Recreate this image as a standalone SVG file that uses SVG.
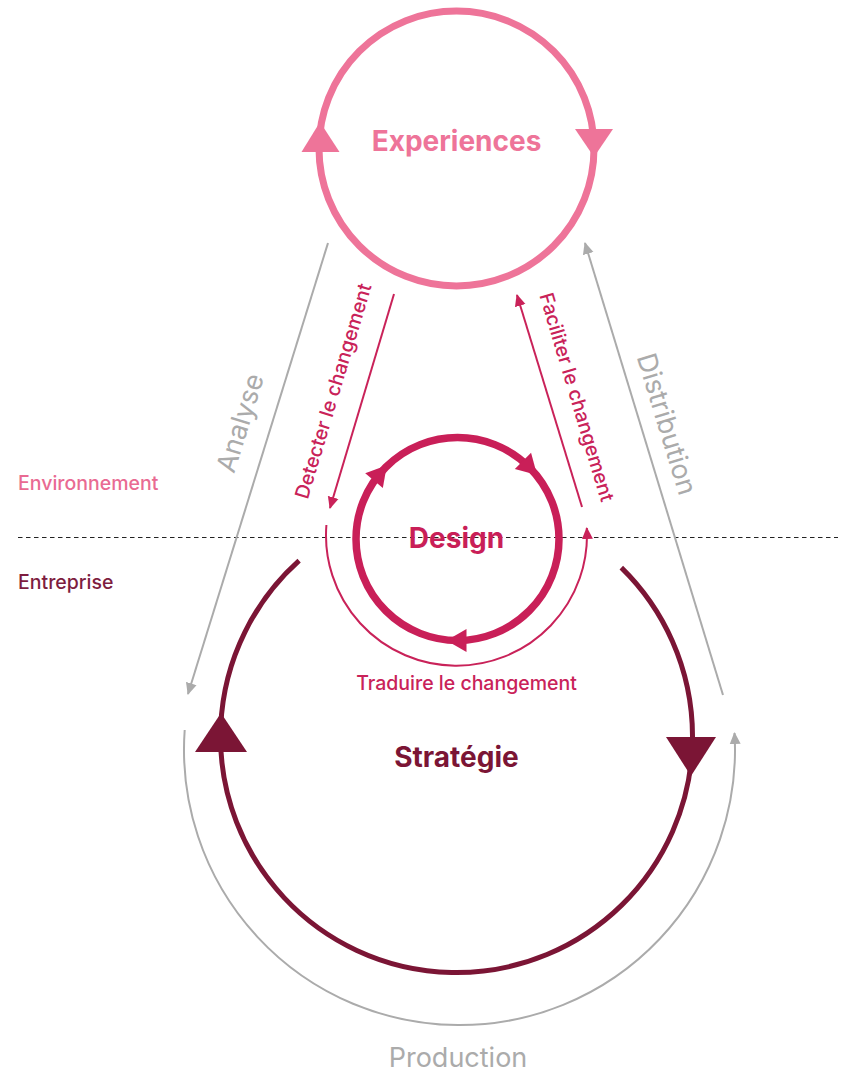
<svg xmlns="http://www.w3.org/2000/svg" width="844" height="1074" viewBox="0 0 844 1074">
  <style>
    text { font-family: Inter, "Liberation Sans", Arial, sans-serif; }
    .title { font-weight: 700; font-size: 28px; text-anchor: middle; }
    .flow { font-size: 27px; fill: #ABABAB; text-anchor: middle; }
    .small { font-size: 19.5px; font-weight: 500; }
    .mid { text-anchor: middle; }
    .gray { fill: none; stroke: #ABABAB; stroke-width: 2; }
    .crim { fill: none; stroke: #C92259; stroke-width: 2; }
  </style>
  <defs>
    <marker id="ah-gray" viewBox="0 0 12 12" refX="11" refY="6" markerWidth="12" markerHeight="12" markerUnits="userSpaceOnUse" orient="auto">
      <path d="M0,0.5 L12,6 L0,11.5 z" fill="#ABABAB"/>
    </marker>
    <marker id="ah-crim" viewBox="0 0 12 12" refX="11" refY="6" markerWidth="12" markerHeight="12" markerUnits="userSpaceOnUse" orient="auto">
      <path d="M0,0.5 L12,6 L0,11.5 z" fill="#C92259"/>
    </marker>
    <polygon id="tri-design" points="11,0 -9,-11.5 -9,11.5"/>
  </defs>

  <rect width="844" height="1074" fill="#FFFFFF"/>

  <!-- boundary between environment and company -->
  <line x1="18" y1="537.5" x2="838" y2="537.5" stroke="#222222" stroke-width="1" stroke-dasharray="4.5 3.5"/>
  <text x="18" y="490" class="small" fill="#E96A92">Environnement</text>
  <text x="18" y="589" class="small" fill="#7E1D3F">Entreprise</text>

  <!-- Experiences loop -->
  <g id="experiences">
    <circle cx="456.5" cy="148.5" r="137.5" fill="none" stroke="#EE7499" stroke-width="7"/>
    <polygon points="320,122 301.5,152 339.5,152" fill="#EE7499"/>
    <polygon points="575,129 613,129 594,157" fill="#EE7499"/>
    <text x="456.5" y="151" class="title" fill="#EE7499">Experiences</text>
  </g>

  <!-- Design loop -->
  <g id="design" fill="#C91F58">
    <circle cx="457.5" cy="539" r="101.5" fill="none" stroke="#C91F58" stroke-width="7.5"/>
    <use href="#tri-design" transform="translate(379.8 473.8) rotate(-50)"/>
    <use href="#tri-design" transform="translate(529.3 467.2) rotate(45)"/>
    <use href="#tri-design" transform="translate(457.5 640.5) rotate(180)"/>
    <text x="456.5" y="548" class="title">Design</text>
  </g>

  <!-- Strategie loop -->
  <g id="strategie" fill="#7B1535">
    <path d="M621.3,567.6 A236,236 0 1 1 299.1,560.7" fill="none" stroke="#7B1535" stroke-width="5"/>
    <polygon points="221,713 195,752 247,752"/>
    <polygon points="666,737 716,737 691,776"/>
    <text x="456.5" y="767" class="title">Stratégie</text>
  </g>

  <!-- flows between the loops -->
  <g id="connectors">
    <line x1="328" y1="243" x2="188" y2="694" class="gray" marker-end="url(#ah-gray)"/>
    <line x1="723" y1="695" x2="585" y2="243" class="gray" marker-end="url(#ah-gray)"/>
    <path d="M184.7,730 A275.5,275.5 0 1 0 734.5,733" class="gray" marker-end="url(#ah-gray)"/>
    <line x1="394" y1="294" x2="330" y2="508" class="crim" marker-end="url(#ah-crim)"/>
    <line x1="582" y1="507" x2="517" y2="295" class="crim" marker-end="url(#ah-crim)"/>
    <path d="M326.4,525 A130.5,130.5 0 1 0 586.8,528" class="crim" marker-end="url(#ah-crim)"/>
  </g>

  <!-- flow labels -->
  <g id="labels">
    <text class="flow" transform="translate(240 423) rotate(-72.76)" y="9.5">Analyse</text>
    <text class="flow" transform="translate(667 424) rotate(73)" y="9.5">Distribution</text>
    <text class="flow" x="458" y="1067">Production</text>
    <text class="small mid" fill="#C92259" transform="translate(333 391) rotate(-73.35)" y="7">Detecter le changement</text>
    <text class="small mid" fill="#C92259" transform="translate(577 397) rotate(73.35)" y="7">Faciliter le changement</text>
    <text class="small mid" fill="#C92259" x="466.5" y="690">Traduire le changement</text>
  </g>
</svg>
